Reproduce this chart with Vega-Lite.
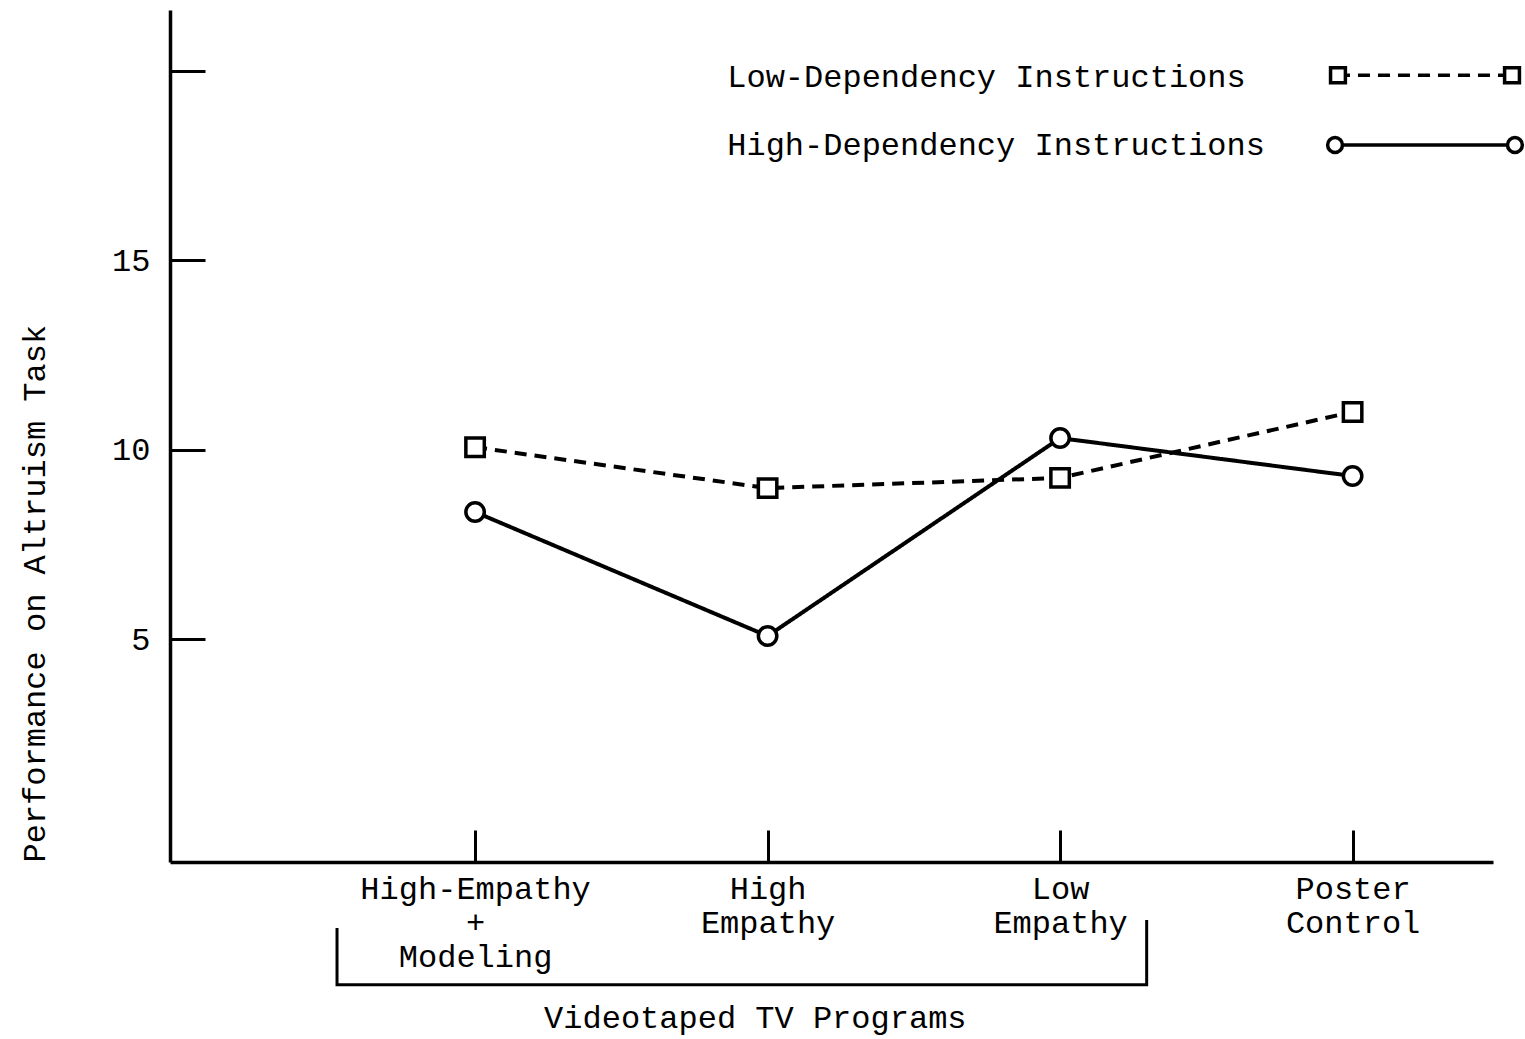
{
  "$schema": "https://vega.github.io/schema/vega-lite/v6.json",
  "autosize": {"type": "none"},
  "padding": {"left": 170, "top": 10, "right": 32, "bottom": 177},
  "width": 1323,
  "height": 852,
  "background": "white",
  "config": {
    "view": {"stroke": null},
    "font": "Liberation Mono",
    "axis": {"grid": false, "domainColor": "black", "tickColor": "black", "labelColor": "black", "titleColor": "black", "labelFont": "Liberation Mono", "titleFont": "Liberation Mono", "labelFontSize": 32, "titleFontSize": 32, "titleFontWeight": "normal", "domainWidth": 3.5, "tickWidth": 3, "labelLimit": 600}
  },
  "datasets": {
    "points": [
      {"program": "High-Empathy + Modeling", "x": 1, "series": "Low-Dependency Instructions", "score": 10.07},
      {"program": "High Empathy", "x": 2, "series": "Low-Dependency Instructions", "score": 8.99},
      {"program": "Low Empathy", "x": 3, "series": "Low-Dependency Instructions", "score": 9.26},
      {"program": "Poster Control", "x": 4, "series": "Low-Dependency Instructions", "score": 11.0},
      {"program": "High-Empathy + Modeling", "x": 1, "series": "High-Dependency Instructions", "score": 8.36},
      {"program": "High Empathy", "x": 2, "series": "High-Dependency Instructions", "score": 5.09},
      {"program": "Low Empathy", "x": 3, "series": "High-Dependency Instructions", "score": 10.31},
      {"program": "Poster Control", "x": 4, "series": "High-Dependency Instructions", "score": 9.31}
    ],
    "legend": [
      {"series": "Low-Dependency Instructions", "x": 3.95, "score": 19.88},
      {"series": "Low-Dependency Instructions", "x": 4.545, "score": 19.88},
      {"series": "High-Dependency Instructions", "x": 3.94, "score": 18.04},
      {"series": "High-Dependency Instructions", "x": 4.555, "score": 18.04}
    ],
    "legendText": [
      {"series": "Low-Dependency Instructions", "x": 1.862, "score": 19.83},
      {"series": "High-Dependency Instructions", "x": 1.862, "score": 18.04}
    ],
    "bracket": [
      {"order": 1, "x": 0.528, "score": -2.61},
      {"order": 2, "x": 0.528, "score": -4.11},
      {"order": 3, "x": 3.296, "score": -4.11},
      {"order": 4, "x": 3.296, "score": -2.4}
    ],
    "bracketText": [
      {"label": "Videotaped TV Programs", "x": 1.958, "score": -4.99}
    ]
  },
  "layer": [
    {
      "data": {"name": "points"},
      "mark": {"type": "line", "color": "black", "strokeWidth": 4},
      "encoding": {
        "x": {"field": "x", "type": "quantitative", "scale": {"domain": [-0.043, 4.48], "nice": false, "zero": false},
          "axis": {"values": [1, 2, 3, 4], "tickSize": -32, "labelPadding": 43, "labelBaseline": "top", "labelLineHeight": 34, "title": null,
            "labelExpr": "datum.value == 1 ? ['High-Empathy', '+', 'Modeling'] : datum.value == 2 ? ['High', 'Empathy'] : datum.value == 3 ? ['Low', 'Empathy'] : ['Poster', 'Control']"}},
        "y": {"field": "score", "type": "quantitative", "scale": {"domain": [-0.87, 21.6], "nice": false, "zero": false},
          "axis": {"values": [5, 10, 15, 20], "tickSize": -35, "labelPadding": 55, "labelExpr": "datum.value == 20 ? '' : datum.label",
            "title": "Performance on Altruism Task", "titleAnchor": "start", "titlePadding": 60}},
        "strokeDash": {"field": "series", "type": "nominal", "scale": {"domain": ["Low-Dependency Instructions", "High-Dependency Instructions"], "range": [[12, 8], [1, 0]]}, "legend": null}
      }
    },
    {
      "data": {"name": "points"},
      "mark": {"type": "point", "filled": true, "fill": "white", "stroke": "black", "strokeWidth": 3.5, "opacity": 1},
      "encoding": {
        "x": {"field": "x", "type": "quantitative"},
        "y": {"field": "score", "type": "quantitative"},
        "shape": {"field": "series", "type": "nominal", "scale": {"domain": ["Low-Dependency Instructions", "High-Dependency Instructions"], "range": ["square", "circle"]}, "legend": null},
        "size": {"value": 340}
      }
    },
    {
      "data": {"name": "legend"},
      "mark": {"type": "line", "color": "black", "strokeWidth": 3.5},
      "encoding": {
        "x": {"field": "x", "type": "quantitative"},
        "y": {"field": "score", "type": "quantitative"},
        "strokeDash": {"field": "series", "type": "nominal", "legend": null}
      }
    },
    {
      "data": {"name": "legend"},
      "mark": {"type": "point", "filled": true, "fill": "white", "stroke": "black", "strokeWidth": 3.5, "opacity": 1},
      "encoding": {
        "x": {"field": "x", "type": "quantitative"},
        "y": {"field": "score", "type": "quantitative"},
        "shape": {"field": "series", "type": "nominal", "legend": null},
        "size": {"value": 220}
      }
    },
    {
      "data": {"name": "legendText"},
      "mark": {"type": "text", "align": "left", "baseline": "middle", "fontSize": 32, "font": "Liberation Mono", "color": "black"},
      "encoding": {
        "x": {"field": "x", "type": "quantitative"},
        "y": {"field": "score", "type": "quantitative"},
        "text": {"field": "series"}
      }
    },
    {
      "data": {"name": "bracket"},
      "mark": {"type": "line", "color": "black", "strokeWidth": 3},
      "encoding": {
        "x": {"field": "x", "type": "quantitative"},
        "y": {"field": "score", "type": "quantitative"},
        "order": {"field": "order"}
      }
    },
    {
      "data": {"name": "bracketText"},
      "mark": {"type": "text", "align": "center", "baseline": "middle", "fontSize": 32, "font": "Liberation Mono", "color": "black"},
      "encoding": {
        "x": {"field": "x", "type": "quantitative"},
        "y": {"field": "score", "type": "quantitative"},
        "text": {"field": "label"}
      }
    }
  ]
}
